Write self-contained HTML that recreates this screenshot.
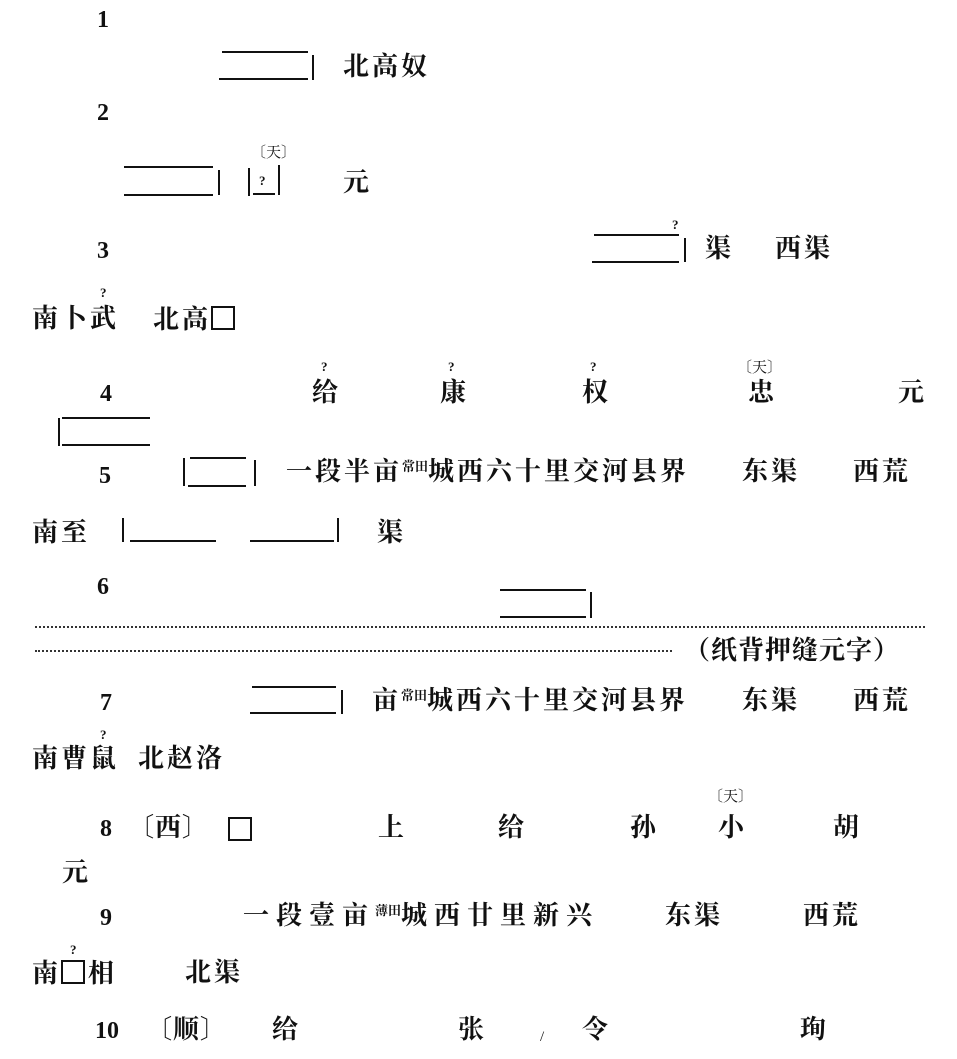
<!DOCTYPE html>
<html><head><meta charset="utf-8"><style>
body{margin:0;background:#fff;}
#p{position:relative;width:957px;height:1059px;overflow:hidden;background:#fff;color:#111;}
.t{position:absolute;font-family:"Liberation Serif","Noto Serif CJK SC",serif;font-weight:bold;font-size:26px;line-height:26px;white-space:pre;letter-spacing:3px;}
.n{position:absolute;font-family:"Liberation Serif",serif;font-weight:bold;font-size:24px;line-height:24px;}
.s{position:absolute;font-family:"Liberation Serif","Noto Serif CJK SC",serif;font-size:15px;line-height:15px;white-space:pre;}
.q{position:absolute;font-family:"Liberation Serif",serif;font-weight:bold;font-size:13px;line-height:13px;}
.h{position:absolute;height:0;border-top:2px solid #111;}
.v{position:absolute;width:0;border-left:2px solid #111;}
.d{position:absolute;height:0;border-top:2px dotted #333;}
.sm{font-size:13px;line-height:0;position:relative;top:-9px;letter-spacing:0;}
</style></head><body><div id="p">
<!-- row 1 -->
<div class="n" style="left:97px;top:8px">1</div>
<div class="h" style="left:222px;top:51px;width:86px"></div>
<div class="h" style="left:219px;top:78px;width:89px"></div>
<div class="v" style="left:312px;top:55px;height:25px"></div>
<div class="t" style="left:343px;top:54px">北高奴</div>
<!-- row 2 -->
<div class="n" style="left:97px;top:101px">2</div>
<div class="h" style="left:124px;top:166px;width:89px"></div>
<div class="h" style="left:124px;top:194px;width:89px"></div>
<div class="v" style="left:218px;top:170px;height:25px"></div>
<div class="v" style="left:248px;top:168px;height:28px"></div>
<div class="v" style="left:278px;top:165px;height:30px"></div>
<div class="h" style="left:253px;top:193px;width:22px"></div>
<div class="q" style="left:259px;top:174px">?</div>
<div class="s" style="left:251px;top:146px">〔天〕</div>
<div class="t" style="left:343px;top:170px">元</div>
<!-- row 3 -->
<div class="n" style="left:97px;top:239px">3</div>
<div class="q" style="left:672px;top:218px">?</div>
<div class="h" style="left:594px;top:234px;width:85px"></div>
<div class="h" style="left:592px;top:261px;width:87px"></div>
<div class="v" style="left:684px;top:238px;height:24px"></div>
<div class="t" style="left:705px;top:236px">渠</div>
<div class="t" style="left:775px;top:236px">西渠</div>
<div class="q" style="left:100px;top:286px">?</div>
<div class="t" style="left:32px;top:306px">南卜武</div>
<div class="t" style="left:153px;top:306px">北高<span style="display:inline-block;width:20px;height:20px;border:2px solid #111;vertical-align:-2px"></span></div>
<!-- row 4 -->
<div class="n" style="left:100px;top:382px">4</div>
<div class="q" style="left:321px;top:360px">?</div>
<div class="t" style="left:312px;top:380px">给</div>
<div class="q" style="left:448px;top:360px">?</div>
<div class="t" style="left:440px;top:380px">康</div>
<div class="q" style="left:590px;top:360px">?</div>
<div class="t" style="left:582px;top:380px">权</div>
<div class="s" style="left:737px;top:361px">〔天〕</div>
<div class="t" style="left:748px;top:380px">忠</div>
<div class="t" style="left:898px;top:380px">元</div>
<div class="v" style="left:58px;top:418px;height:28px"></div>
<div class="h" style="left:62px;top:417px;width:88px"></div>
<div class="h" style="left:62px;top:444px;width:88px"></div>
<!-- row 5 -->
<div class="n" style="left:99px;top:464px">5</div>
<div class="v" style="left:183px;top:458px;height:28px"></div>
<div class="h" style="left:190px;top:457px;width:56px"></div>
<div class="h" style="left:188px;top:485px;width:58px"></div>
<div class="v" style="left:254px;top:460px;height:26px"></div>
<div class="t" style="left:286px;top:459px">一段半亩<span class="sm">常田</span>城西六十里交河县界</div>
<div class="t" style="left:742px;top:459px">东渠</div>
<div class="t" style="left:853px;top:459px">西荒</div>
<div class="t" style="left:32px;top:520px">南至</div>
<div class="v" style="left:122px;top:518px;height:24px"></div>
<div class="h" style="left:130px;top:540px;width:86px"></div>
<div class="h" style="left:250px;top:540px;width:84px"></div>
<div class="v" style="left:337px;top:518px;height:24px"></div>
<div class="t" style="left:377px;top:520px">渠</div>
<!-- row 6 -->
<div class="n" style="left:97px;top:575px">6</div>
<div class="h" style="left:500px;top:589px;width:86px"></div>
<div class="h" style="left:500px;top:616px;width:86px"></div>
<div class="v" style="left:590px;top:592px;height:26px"></div>
<div class="d" style="left:35px;top:626px;width:890px"></div>
<div class="d" style="left:35px;top:650px;width:637px"></div>
<div class="t" style="left:684px;top:638px;letter-spacing:1px">（纸背押缝元字）</div>
<!-- row 7 -->
<div class="n" style="left:100px;top:691px">7</div>
<div class="h" style="left:252px;top:686px;width:84px"></div>
<div class="h" style="left:250px;top:712px;width:86px"></div>
<div class="v" style="left:341px;top:690px;height:24px"></div>
<div class="t" style="left:372px;top:688px">亩<span class="sm">常田</span>城西六十里交河县界</div>
<div class="t" style="left:742px;top:688px">东渠</div>
<div class="t" style="left:853px;top:688px">西荒</div>
<div class="q" style="left:100px;top:728px">?</div>
<div class="t" style="left:32px;top:746px">南曹鼠</div>
<div class="t" style="left:138px;top:746px">北赵洛</div>
<!-- row 8 -->
<div class="n" style="left:100px;top:817px">8</div>
<div class="t" style="left:128px;top:815px;letter-spacing:1px">〔西〕</div>
<div style="position:absolute;left:228px;top:817px;width:20px;height:20px;border:2px solid #111"></div>
<div class="t" style="left:378px;top:815px">上</div>
<div class="t" style="left:498px;top:815px">给</div>
<div class="t" style="left:630px;top:815px">孙</div>
<div class="s" style="left:708px;top:790px">〔天〕</div>
<div class="t" style="left:718px;top:815px">小</div>
<div class="t" style="left:833px;top:815px">胡</div>
<div class="t" style="left:62px;top:860px">元</div>
<!-- row 9 -->
<div class="n" style="left:100px;top:906px">9</div>
<div class="t" style="left:243px;top:903px;letter-spacing:7px">一段壹亩<span class="sm">薄田</span>城西廿里新兴</div>
<div class="t" style="left:665px;top:903px">东渠</div>
<div class="t" style="left:803px;top:903px">西荒</div>
<div class="q" style="left:70px;top:943px">?</div>
<div class="t" style="left:32px;top:960px">南<span style="display:inline-block;width:20px;height:20px;border:2px solid #111;vertical-align:-2px;margin-right:3px"></span>相</div>
<div class="t" style="left:185px;top:960px">北渠</div>
<!-- row 10 -->
<div class="n" style="left:95px;top:1019px">10</div>
<div class="t" style="left:146px;top:1017px;letter-spacing:1px">〔顺〕</div>
<div class="t" style="left:272px;top:1017px">给</div>
<div class="t" style="left:458px;top:1017px">张</div>
<div class="s" style="left:540px;top:1030px">/</div>
<div class="t" style="left:582px;top:1017px">令</div>
<div class="t" style="left:800px;top:1017px">珣</div>
</div></body></html>
